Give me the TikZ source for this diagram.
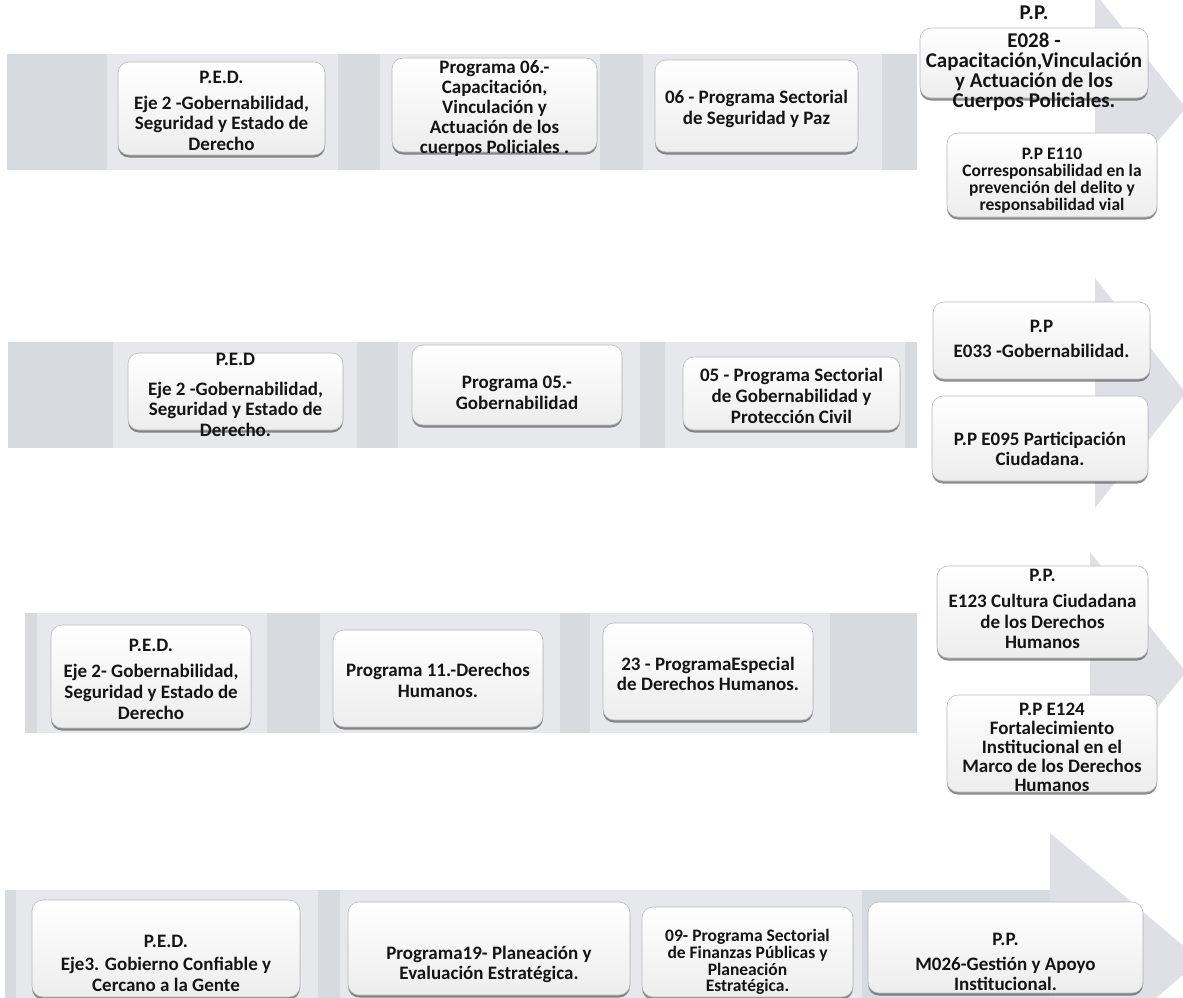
\documentclass[tikz,border=0pt]{standalone}
\usepackage{fontspec}
\setmainfont{Carlito}
\usetikzlibrary{shadows}
\definecolor{banddark}{RGB}{215,218,223}
\definecolor{bandlight}{RGB}{230,232,236}
\definecolor{headgray}{RGB}{222,224,229}
\definecolor{boxedge}{RGB}{185,185,188}
\definecolor{inkcol}{RGB}{20,20,20}
\tikzset{
  procbox/.style={draw=boxedge, line width=0.6pt, rounded corners=11pt, inner sep=0pt,
    top color=white, bottom color=black!7,
    drop shadow={shadow xshift=0pt, shadow yshift=-2.5pt, opacity=0.6, fill=black!75}},
  txt/.style={align=center, inner sep=0pt, text=inkcol, font=\bfseries\fontsize{19}{20.7}\selectfont},
  txtbig/.style={txt, font=\bfseries\fontsize{21}{19.8}\selectfont},
  txtsmall/.style={txt, font=\bfseries\fontsize{17.5}{17}\selectfont},
}
\newcommand{\procnode}[5]{\node[procbox, minimum width={#4-#2}, minimum height={#5-#3}] (#1) at ({(#2+#4)/2},{(#3+#5)/2}) {};}
\begin{document}
\begin{tikzpicture}[x=1pt,y=-1pt]
\useasboundingbox (0,0) rectangle (1183,998);
\fill[white] (0,0) rectangle (1183,998);
% ---------- row 1 arrow
\fill[banddark] (7,54) rectangle (917,170);
\fill[bandlight] (107,54) rectangle (338,170);
\fill[bandlight] (380,54) rectangle (600,170);
\fill[bandlight] (643,54) rectangle (882,170);
\fill[headgray] (1095,-7) -- (1186,108) -- (1095,215) -- cycle;
% ---------- row 2 arrow
\fill[banddark] (8,342) rectangle (917,448);
\fill[bandlight] (113,342) rectangle (357,448);
\fill[bandlight] (398,342) rectangle (640,448);
\fill[bandlight] (665,342) rectangle (905,448);
\fill[headgray] (1095,278) -- (1186,393) -- (1095,508) -- cycle;
% ---------- row 3 arrow
\fill[banddark] (25,613) rectangle (917,733);
\fill[bandlight] (37,613) rectangle (267,733);
\fill[bandlight] (320,613) rectangle (560,733);
\fill[bandlight] (590,613) rectangle (830,733);
\fill[headgray] (1090,552) -- (1186,672) -- (1090,792) -- cycle;
% ---------- row 4 arrow
\fill[banddark] (5,890) rectangle (1050,1010);
\fill[bandlight] (16,890) rectangle (318,1010);
\fill[bandlight] (340,890) rectangle (862,1010);
\fill[headgray] (1050,833) -- (1200,960) -- (1050,1090) -- cycle;

% ---------- row 1 boxes
\procnode{r1a}{118}{62}{325}{155}
\procnode{r1b}{392}{58}{597}{152}
\procnode{r1c}{655}{60}{858}{152}
\procnode{r1d}{920}{28}{1148}{98}
\procnode{r1e}{947}{133}{1157}{217}
\node[txt] (r1a-t) at (221.5,111) {P.E.D.\\[5pt]Eje 2 -Gobernabilidad,\\Seguridad y Estado de\\Derecho};
\node[txt, font=\bfseries\fontsize{19}{20.2}\selectfont] (r1b-t) at (494.5,108.5) {Programa 06.-\\Capacitación,\\Vinculación y\\Actuación de los\\cuerpos Policiales .};
\node[txt] (r1c-t) at (756.5,109) {06 - Programa Sectorial\\de Seguridad y Paz};
\node[txtbig] (r1d-t) at (1034,58) {P.P.\\[9pt]E028 -\\Capacitación,Vinculación\\y Actuación de los\\Cuerpos Policiales.};
\node[txtsmall] (r1e-t) at (1052,181) {P.P E110\\Corresponsabilidad en la\\prevención del delito y\\responsabilidad vial};

% ---------- row 2 boxes
\procnode{r2a}{128}{353}{343}{430}
\procnode{r2b}{412}{345}{622}{425}
\procnode{r2c}{683}{357}{900}{430}
\procnode{r2d}{933}{302}{1150}{379}
\procnode{r2e}{932}{396}{1148}{481}
\node[txt] (r2a-t) at (235.5,395) {P.E.D\\[9pt]Eje 2 -Gobernabilidad,\\Seguridad y Estado de\\Derecho.};
\node[txt] (r2b-t) at (517,393) {Programa 05.-\\Gobernabilidad};
\node[txt] (r2c-t) at (791.5,396) {05 - Programa Sectorial\\de Gobernabilidad y\\Protección Civil};
\node[txt] (r2d-t) at (1041.5,339) {P.P\\[3.5pt]E033 -Gobernabilidad.};
\node[txt] (r2e-t) at (1040,449) {P.P E095 Participación\\Ciudadana.};

% ---------- row 3 boxes
\procnode{r3a}{51}{625}{251}{728}
\procnode{r3b}{333}{630}{543}{727}
\procnode{r3c}{603}{623}{813}{720}
\procnode{r3d}{937}{566}{1148}{658}
\procnode{r3e}{947}{695}{1157}{792}
\node[txt] (r3a-t) at (151,679) {P.E.D.\\[6pt]Eje 2- Gobernabilidad,\\Seguridad y Estado de\\Derecho};
\node[txt] (r3b-t) at (438,680.5) {Programa 11.-Derechos\\Humanos.};
\node[txt] (r3c-t) at (708,674) {23 - ProgramaEspecial\\de Derechos Humanos.};
\node[txt] (r3d-t) at (1042.5,609) {P.P.\\[5.5pt]E123 Cultura Ciudadana\\de los Derechos\\Humanos};
\node[txt, font=\bfseries\fontsize{19}{19}\selectfont] (r3e-t) at (1052,747) {P.P E124\\Fortalecimiento\\Institucional en el\\Marco de los Derechos\\Humanos};

% ---------- row 4 boxes
\procnode{r4a}{32}{900}{300}{997}
\procnode{r4b}{348}{902}{630}{995}
\procnode{r4c}{642}{907}{853}{997}
\procnode{r4d}{868}{902}{1143}{993}
\node[txt] (r4a-t) at (166,963) {P.E.D.\\[2.5pt]Eje3. Gobierno Confiable y\\Cercano a la Gente};
\node[txt] (r4b-t) at (489,964.5) {Programa19- Planeación y\\Evaluación Estratégica.};
\node[txt, font=\bfseries\fontsize{17.5}{16.7}\selectfont] (r4c-t) at (747.5,962) {09- Programa Sectorial\\de Finanzas Públicas y\\Planeación\\Estratégica.};
\node[txt] (r4d-t) at (1005.5,962) {P.P.\\[4pt]M026-Gestión y Apoyo\\Institucional.};
\end{tikzpicture}
\end{document}
